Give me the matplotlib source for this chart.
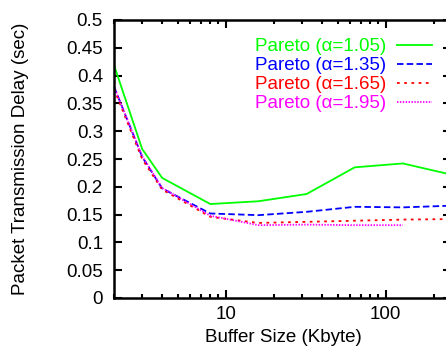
import numpy as np
import matplotlib.pyplot as plt
from matplotlib.ticker import FixedLocator, FuncFormatter, LogLocator, NullFormatter

plt.rcParams['font.family'] = ['Liberation Sans', 'DejaVu Sans']
plt.rcParams['font.size'] = 13.5

buf = [2, 3, 4, 8, 16, 32, 64, 128, 256]
a105 = [0.419, 0.268, 0.216, 0.169, 0.174, 0.187, 0.235, 0.242, 0.222]
a135 = [0.380, 0.254, 0.197, 0.152, 0.149, 0.155, 0.164, 0.163, 0.166]
a165 = [0.376, 0.250, 0.195, 0.146, 0.135, 0.137, 0.139, 0.141, 0.142]
a195 = [0.380, 0.255, 0.198, 0.148, 0.131, 0.132, 0.131, 0.131]

W, H = 446, 347
fig = plt.figure(figsize=(W / 100, H / 100), dpi=100)
# axes box: right edge runs a few px past the picture, as in the original
ax = fig.add_axes([114 / W, 1 - 298 / H, (451 - 114) / W, (298 - 20) / H])

lw = 1.3
ax.plot(buf, a105, color='#00ff00', lw=lw, ls='-', label='Pareto (\u03b1=1.05)')
ax.plot(buf, a135, color='#0000ff', lw=lw, ls=(0, (3.6, 1.8)), label='Pareto (\u03b1=1.35)')
ax.plot(buf, a165, color='#ff0000', lw=lw, ls=(0, (1.5, 2.5)), label='Pareto (\u03b1=1.65)')
ax.plot(buf[:len(a195)], a195, color='#ff00ff', lw=lw, ls=(0, (0.8, 0.8)), label='Pareto (\u03b1=1.95)')

ax.set_xscale('log')
ax.set_xlim(2, 256)
ax.set_ylim(0, 0.5)
ax.xaxis.set_major_locator(FixedLocator([10, 100]))
ax.xaxis.set_major_formatter(FuncFormatter(lambda v, p: '%g' % v))
ax.xaxis.set_minor_locator(LogLocator(base=10, subs=np.arange(2, 10), numticks=20))
ax.xaxis.set_minor_formatter(NullFormatter())
ax.set_yticks(np.arange(0, 0.501, 0.05))
ax.yaxis.set_major_formatter(FuncFormatter(lambda v, p: '%g' % round(v, 2)))

for s in ax.spines.values():
    s.set_linewidth(1.8)
ax.tick_params(which='both', direction='in', top=True, right=True, width=1.5)
ax.tick_params(which='major', length=6)
ax.tick_params(which='minor', length=3)
ax.tick_params(axis='y', pad=8)
ax.tick_params(axis='x', pad=6)

fig.text(21 / W, 1 - 159 / H, 'Packet Transmission Delay (sec)', rotation=90,
         ha='center', va='center')
fig.text(283 / W, 1 - 337 / H, 'Buffer Size (Kbyte)', ha='center', va='center')

leg = ax.legend(loc='upper right', bbox_to_anchor=(432 / W, 1 - 38 / H),
                bbox_transform=fig.transFigure, frameon=False, markerfirst=False,
                labelcolor='linecolor', handlelength=1.87, handletextpad=0.57,
                labelspacing=0.1, borderpad=0, borderaxespad=0)

fig.savefig('out.png', dpi=100)
